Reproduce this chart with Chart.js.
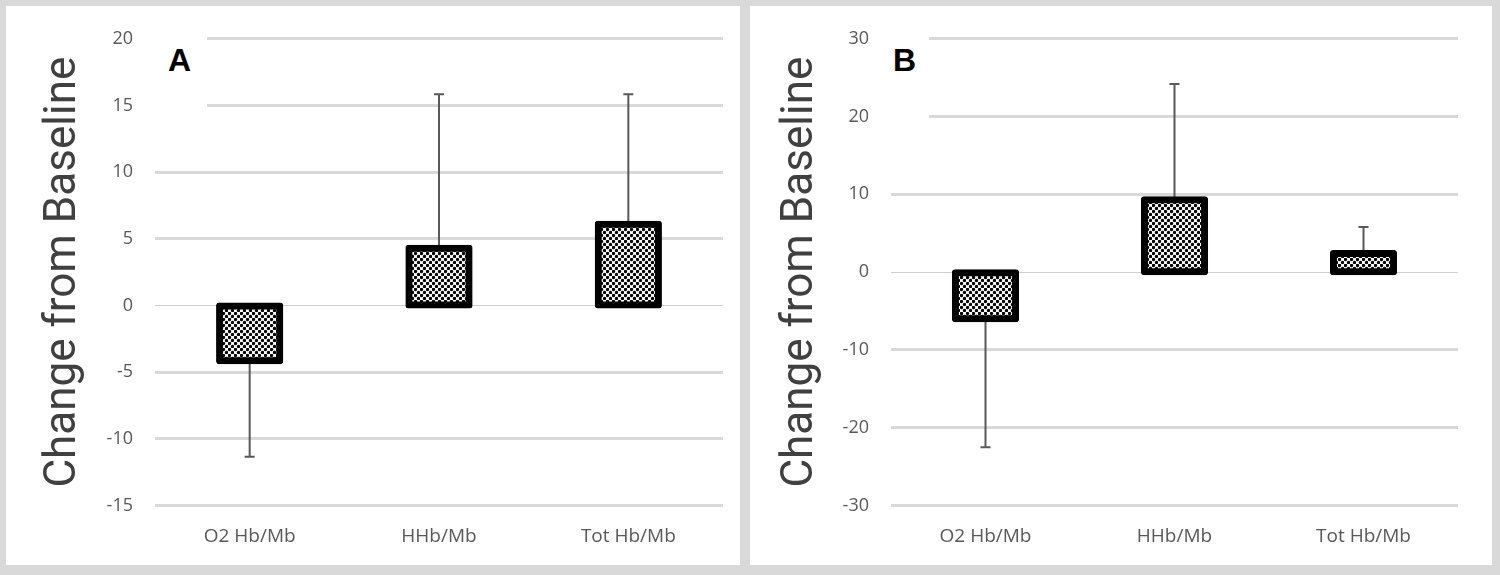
<!DOCTYPE html>
<html lang="pt-br">
<head>
  <meta charset="UTF-8" />
  <title>Change from Baseline</title>
  <script src="https://cdn.jsdelivr.net/npm/chart.js"></script>
  <style>
    body { margin: 0; background: #d9d9d9; width: 1500px; height: 575px; position: relative; overflow: hidden; }
    .painel { position: absolute; top: 6px; height: 559px; background: #fff; }
    .painel canvas { position: absolute; left: 0; top: 0; }
    .rotulo { position: absolute; background: #fff; }
    .rotulo span { position: absolute; font: bold 32px "Liberation Sans", Arial, sans-serif; line-height: 32px; color: #000; }
  </style>
</head>
<body>
  <div class="painel" style="left:6px; width:734px;">
    <canvas id="graficoA" width="734" height="559"></canvas>
    <div class="rotulo" style="left:144px; top:18px; width:57px; height:86px;"><span style="left:18px; top:20px;">A</span></div>
  </div>
  <div class="painel" style="left:750px; width:742px;">
    <canvas id="graficoB" width="742" height="559"></canvas>
    <div class="rotulo" style="left:126px; top:18px; width:53px; height:94px;"><span style="left:17px; top:20px;">B</span></div>
  </div>

<script>
  // dados
  const categorias = ["O2 Hb/Mb", "HHb/Mb", "Tot Hb/Mb"];

  const valoresA = [-4.15, 4.3, 6.1];
  const errosA = [7.2, 11.55, 9.75];
  const ticksA = [-15, -10, -5, 0, 5, 10, 15, 20];

  const valoresB = [-6.0, 9.3, 2.4];
  const errosB = [16.5, 14.9, 3.4];
  const ticksB = [-30, -20, -10, 0, 10, 20, 30];

  // padrao pontilhado das barras
  function criarPadrao() {
    const c = document.createElement("canvas");
    c.width = 6;
    c.height = 6;
    const p = c.getContext("2d");
    p.fillStyle = "#fff";
    p.fillRect(0, 0, 6, 6);
    p.fillStyle = "#000";
    p.beginPath();
    p.arc(1.5, 1.5, 1.7, 0, Math.PI * 2);
    p.arc(4.5, 4.5, 1.7, 0, Math.PI * 2);
    p.fill();
    return p.createPattern(c, "repeat");
  }

  // barras de erro (so para o lado oposto ao zero)
  const barrasErro = {
    id: "barrasErro",
    beforeDatasetsDraw(chart, args, opcoes) {
      const ctx = chart.ctx;
      const y = chart.scales.y;
      const meta = chart.getDatasetMeta(0);
      const dados = chart.data.datasets[0].data;
      ctx.save();
      ctx.strokeStyle = "#595959";
      ctx.lineWidth = 2;
      meta.data.forEach(function (barra, i) {
        const v = dados[i];
        const fim = v + Math.sign(v) * opcoes.erros[i];
        const y0 = y.getPixelForValue(v);
        const y1 = y.getPixelForValue(fim);
        ctx.beginPath();
        ctx.moveTo(barra.x, y0);
        ctx.lineTo(barra.x, y1);
        ctx.moveTo(barra.x - 5, y1);
        ctx.lineTo(barra.x + 5, y1);
        ctx.stroke();
      });
      ctx.restore();
    },
  };

  function plotarGrafico(id, valores, erros, ticks, padEsq, padDir, largY) {
    const config = {
      type: "bar",
      data: {
        labels: categorias,
        datasets: [
          {
            data: valores,
            backgroundColor: criarPadrao(),
            borderColor: "#000",
            borderWidth: 7,
            borderSkipped: false,
            borderRadius: 3,
            inflateAmount: 3.5,
            categoryPercentage: 1,
            barPercentage: 0.318,
          },
        ],
      },
      options: {
        responsive: false,
        animation: false,
        layout: { padding: { left: padEsq, right: padDir, top: 28, bottom: 0 } },
        plugins: {
          legend: { display: false },
          tooltip: { enabled: false },
          barrasErro: { erros: erros },
        },
        scales: {
          x: {
            grid: { display: false, drawTicks: false },
            border: { display: false },
            ticks: {
              padding: 20,
              color: "#595959",
              font: { family: "'Open Sans', sans-serif", size: 19 },
            },
            afterFit: function (s) { s.height = 59.5; },
          },
          y: {
            min: ticks[0],
            max: ticks[ticks.length - 1],
            afterBuildTicks: function (s) {
              s.ticks = ticks.map(function (t) { return { value: t }; });
            },
            afterFit: function (s) { s.width = largY; },
            grid: {
              drawTicks: false,
              color: function (c) { return c.tick && c.tick.value === 0 ? "#cfcfcf" : "#d9d9d9"; },
              lineWidth: function (c) { return c.tick && c.tick.value === 0 ? 1 : 3; },
            },
            border: { display: false },
            ticks: {
              padding: 22,
              color: "#595959",
              font: { family: "'Open Sans', sans-serif", size: 18 },
            },
            title: {
              display: true,
              text: "Change from Baseline",
              color: "#404040",
              padding: { top: 7, bottom: 0 },
              font: { family: "Roboto, sans-serif", size: 44, lineHeight: 1 },
            },
          },
        },
      },
      plugins: [barrasErro],
    };

    let myChart = new Chart(document.getElementById(id), config);
  }

  plotarGrafico("graficoA", valoresA, errosA, ticksA, 29, 17, 120);
  plotarGrafico("graficoB", valoresB, errosB, ticksB, 22, 34, 119);
</script>
</body>
</html>
